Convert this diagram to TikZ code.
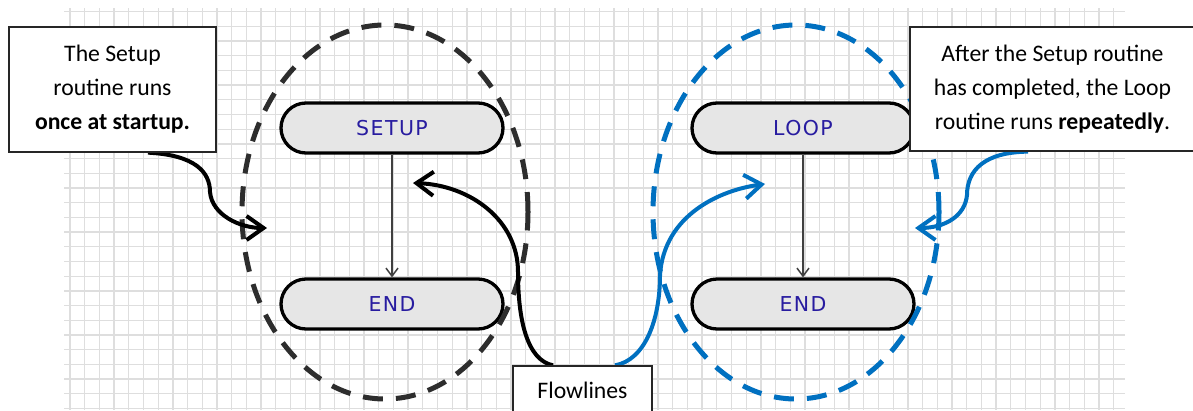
\documentclass[tikz,border=0pt]{standalone}
\usepackage{fontspec}
\setmainfont{Carlito}
\newfontfamily\termfont[LetterSpace=7]{DejaVu Sans}
\usetikzlibrary{arrows.meta,calc}
\definecolor{gridgray}{RGB}{222,222,222}
\definecolor{termfill}{RGB}{230,230,230}
\definecolor{termtext}{RGB}{40,28,160}
\definecolor{flowblue}{RGB}{0,112,192}
\definecolor{darkdash}{RGB}{45,45,45}
\pgfdeclarelayer{gridlayer}
\pgfdeclarelayer{front}
\pgfsetlayers{gridlayer,main,front}
\begin{document}
\begin{tikzpicture}[x=1pt,y=-1pt,
  gridline/.style={draw=gridgray,line width=1.3pt},
  term/.style={draw=black,line width=3.3pt,fill=termfill,rounded corners=25pt,
    minimum width=222pt,minimum height=50pt,inner sep=0pt,
    font=\termfont\fontsize{20.5}{24}\selectfont,text=termtext},
  flow/.style={draw=black!75,line width=1.5pt,-{Straight Barb[length=8pt,width=12pt]}},
  group/.style={dash pattern=on 20pt off 13pt,line width=5pt},
  callout/.style={draw=black!85,line width=1.3pt,fill=white,align=center,
    font=\fontsize{23.7}{34}\selectfont,inner sep=0pt},
  note/.style={line width=4pt,-{Straight Barb[length=17pt,width=24pt]}}
]
\useasboundingbox (0,0) rectangle (1193,410);
% grid
\begin{pgfonlayer}{gridlayer}
\fill[white] (0,0) rectangle (1193,410);
\begin{scope}
\clip (64,8) rectangle (1125,410);
\foreach \i in {0,...,71} \draw[gridline] ({70+14.7*\i},8) -- ({70+14.7*\i},410);
\foreach \j in {0,...,27} \draw[gridline] (64,{11.6+14.7*\j}) -- (1125,{11.6+14.7*\j});
\end{scope}
\end{pgfonlayer}

% terminals
\node[term] (setup) at (392,128) {SETUP};
\node[term] (end1) at (392,304) {END};
\node[term] (loop) at (803,128) {LOOP};
\node[term] (end2) at (803,304) {END};
\draw[flow] (setup) -- (end1);
\draw[flow] (loop) -- (end2);

% dashed groups
\draw[group,draw=darkdash] (385,212) ellipse [x radius=143pt, y radius=187pt];
\draw[group,draw=flowblue] (796,212) ellipse [x radius=143pt, y radius=187pt];

% callout boxes
\begin{pgfonlayer}{front}
\node[callout,minimum width=207pt,minimum height=125pt] (lbox) at (112.5,89.5)
  {The Setup\\routine runs\\\textbf{once at startup.}};
\node[callout,minimum width=285pt,minimum height=124pt] (rbox) at (1052.5,89)
  {After the Setup routine\\has completed, the Loop\\routine runs \textbf{repeatedly}.};
\node[callout,minimum width=139pt,minimum height=48pt] (fbox) at (582.5,390) {Flowlines};
\end{pgfonlayer}

% callout arrows
\coordinate (t1) at (267,228);
\coordinate (t2) at (413,183);
\coordinate (t3) at (765,184);
\coordinate (t4) at (915,228);
\draw[note,draw=black] ([xshift=35.5pt]lbox.south) .. controls (195,155) and (210,172) .. (210,192)
  .. controls (212,215) and (240,228) .. (t1);
\draw[note,draw=black] ([xshift=-29.5pt]fbox.north) .. controls (527,360) and (518,320) .. (518,272)
  .. controls (518,220) and (470,185) .. (t2);
\draw[note,draw=flowblue] ([xshift=32.5pt]fbox.north) .. controls (645,360) and (660,320) .. (660,275)
  .. controls (664,215) and (720,190) .. (t3);
\draw[note,draw=flowblue] ([xshift=-24.5pt]rbox.south) .. controls (985,152) and (967,170) .. (967,195)
  .. controls (965,216) and (945,228) .. (t4);
\end{tikzpicture}
\end{document}
